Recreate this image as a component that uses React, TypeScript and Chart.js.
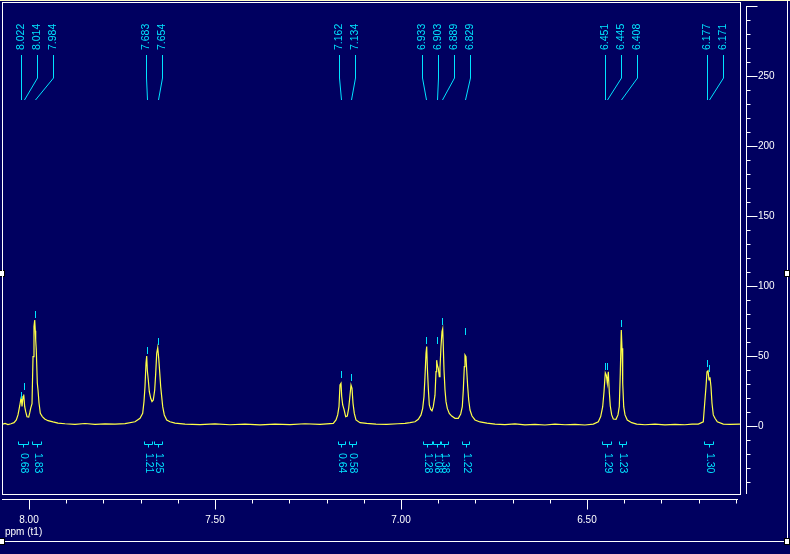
import React, { useEffect, useRef } from 'react';
import { Chart, registerables } from 'chart.js';

Chart.register(...registerables);

const BG = '#000060';
const SPECTRUM_COLOR = '#ffff48';
const CYAN = '#00e4ff';
const WHITE = '#ffffff';
const FONT = '"Liberation Sans", Arial, sans-serif';

// axis ranges (ppm reversed, intensity)
const xRange = [6.0887, 8.0726];
const yRange = [-48.57, 302.14];
const xMajorTicks = [8.0, 7.5, 7.0, 6.5];
const yMajorTicks = [0, 50, 100, 150, 200, 250];
const axisTitle = 'ppm (t1)';

// spectrum trace
const shiftPpm = [
  8.0726, 8.0645, 8.0565, 8.0484, 8.0403, 8.0341, 8.0296, 8.0250, 8.0223, 8.0207,
  8.0188, 8.0161, 8.0142, 8.0116, 8.0089, 8.0054, 8.0008, 7.9981, 7.9954, 7.9919,
  7.9892, 7.9866, 7.9847, 7.9831, 7.9820, 7.9804, 7.9777, 7.9758, 7.9731, 7.9696,
  7.9642, 7.9578, 7.9489, 7.9355, 7.9220, 7.9032, 7.8763, 7.8495, 7.8226, 7.7957,
  7.7688, 7.7419, 7.7151, 7.7016, 7.6944, 7.6909, 7.6882, 7.6855, 7.6836, 7.6820,
  7.6793, 7.6766, 7.6728, 7.6694, 7.6659, 7.6621, 7.6594, 7.6567, 7.6540, 7.6513,
  7.6497, 7.6460, 7.6433, 7.6406, 7.6363, 7.6298, 7.6210, 7.6075, 7.5806, 7.5403,
  7.5000, 7.4597, 7.4194, 7.3790, 7.3387, 7.2984, 7.2581, 7.2177, 7.1820, 7.1747,
  7.1702, 7.1667, 7.1640, 7.1613, 7.1594, 7.1567, 7.1532, 7.1487, 7.1444, 7.1406,
  7.1371, 7.1344, 7.1317, 7.1290, 7.1255, 7.1210, 7.1102, 7.0922, 7.0672, 7.0384,
  7.0081, 6.9892, 6.9758, 6.9624, 6.9535, 6.9462, 6.9417, 6.9382, 6.9355, 6.9328,
  6.9309, 6.9293, 6.9266, 6.9239, 6.9202, 6.9167, 6.9132, 6.9086, 6.9059, 6.9041,
  6.9024, 6.8997, 6.8970, 6.8952, 6.8925, 6.8898, 6.8879, 6.8863, 6.8844, 6.8817,
  6.8790, 6.8755, 6.8702, 6.8637, 6.8548, 6.8460, 6.8395, 6.8352, 6.8325, 6.8298,
  6.8280, 6.8253, 6.8234, 6.8207, 6.8180, 6.8145, 6.8091, 6.8011, 6.7876, 6.7688,
  6.7473, 6.7204, 6.6935, 6.6667, 6.6398, 6.6129, 6.5860, 6.5591, 6.5323, 6.5054,
  6.4831, 6.4696, 6.4632, 6.4578, 6.4543, 6.4508, 6.4481, 6.4454, 6.4427, 6.4401,
  6.4374, 6.4336, 6.4293, 6.4220, 6.4167, 6.4132, 6.4105, 6.4078, 6.4059, 6.4040,
  6.4013, 6.3978, 6.3917, 6.3798, 6.3664, 6.3441, 6.3172, 6.2903, 6.2634, 6.2366,
  6.2177, 6.2008, 6.1874, 6.1836, 6.1801, 6.1774, 6.1747, 6.1720, 6.1694, 6.1667,
  6.1640, 6.1605, 6.1559, 6.1497, 6.1336, 6.1156, 6.0887,
];
const intensity = [
  1.2, 1.8, 1.0, 1.6, 2.4, 4.3, 7.9, 14.3, 18.6, 20.5,
  14.0, 21.0, 22.5, 13.8, 10.2, 6.6, 6.4, 9.3, 12.8, 16.0,
  49.5, 71.0, 75.7, 68.0, 61.4, 54.0, 30.7, 25.7, 16.4, 9.0,
  6.7, 5.0, 3.8, 2.9, 2.1, 1.6, 1.2, 1.8, 1.1, 1.5,
  1.3, 1.7, 3.0, 5.5, 9.0, 17.4, 28.0, 44.8, 50.0, 40.0,
  32.9, 24.5, 19.8, 17.4, 18.6, 25.7, 37.6, 52.0, 56.0, 48.3,
  42.4, 28.0, 21.0, 13.8, 7.9, 4.3, 3.0, 2.0, 1.4, 1.0,
  1.5, 0.9, 1.3, 0.8, 1.4, 1.0, 1.6, 1.2, 1.9, 4.3,
  7.9, 13.8, 29.3, 30.5, 21.0, 15.0, 11.9, 6.7, 7.1, 12.6,
  22.0, 29.3, 26.9, 16.2, 9.0, 4.3, 2.4, 1.9, 1.4, 1.2,
  1.6, 1.9, 2.4, 3.0, 4.8, 7.9, 12.6, 21.0, 35.2, 52.0,
  56.7, 42.4, 26.9, 15.0, 11.9, 10.9, 13.8, 22.0, 38.8, 47.0,
  43.6, 41.2, 35.2, 41.2, 56.7, 67.4, 69.5, 56.7, 40.0, 25.7,
  17.4, 12.6, 9.0, 7.1, 5.5, 5.5, 8.6, 13.8, 25.7, 42.4,
  50.7, 49.5, 40.0, 28.0, 18.6, 11.4, 7.1, 4.3, 2.9, 2.0,
  1.4, 1.0, 1.5, 0.8, 1.2, 0.7, 1.3, 0.9, 1.1, 0.7,
  1.4, 3.0, 6.7, 13.8, 24.5, 38.0, 36.4, 30.5, 38.8, 24.5,
  14.3, 7.9, 5.0, 4.8, 7.9, 13.8, 37.6, 68.6, 55.5, 30.5,
  13.8, 7.9, 4.3, 2.4, 1.4, 0.9, 1.3, 0.8, 1.2, 0.9,
  1.3, 1.4, 3.0, 16.2, 28.0, 38.8, 39.5, 32.9, 34.8, 28.0,
  16.2, 7.9, 5.5, 3.0, 1.4, 1.2, 1.4,
];

// picked peaks: shift and level of the small marker above each peak
const peakShifts = [
  8.022, 8.014, 7.984, 7.683, 7.654, 7.162, 7.134, 6.933,
  6.903, 6.889, 6.829, 6.451, 6.445, 6.408, 6.177, 6.171,
];
const peakMarkerLevels = [
  19.3, 25.7, 77.4, 51.4, 57.9, 34.0, 32.4, 58.3,
  58.3, 72.0, 65.0, 40.0, 40.0, 71.0, 42.4, 38.8,
];

// integrals
const integralStart = [8.0288, 7.9911, 7.6909, 7.6632, 7.1702, 7.1398, 6.9417, 6.9132, 6.8933, 6.8368, 6.4589, 6.4132, 6.1847];
const integralEnd = [8.0035, 7.9685, 7.6702, 7.6433, 7.1505, 7.1210, 6.9175, 6.8952, 6.8745, 6.8164, 6.4355, 6.3960, 6.1605];
const integralValues = [0.68, 1.83, 1.21, 1.25, 0.64, 0.58, 1.28, 1.08, 1.38, 1.22, 1.29, 1.23, 1.30];

function placeLabels(px: number[], gap: number): number[] {
  const lx: number[] = [];
  const groups: number[][] = [];
  px.forEach((p, i) => {
    if (i > 0 && p < lx[i - 1] + gap) {
      lx.push(lx[i - 1] + gap);
      groups[groups.length - 1].push(i);
    } else {
      lx.push(p);
      groups.push([i]);
    }
  });
  groups.forEach((g) => {
    if (g.length < 2) return;
    // only shift clusters whose first two peaks are well separated
    const first = g[0];
    if (px[g[1]] - px[first] < 5) return;
    const mean = g.reduce((s, i) => s + (lx[i] - px[i]), 0) / g.length;
    g.forEach((i) => {
      lx[i] -= mean / 2;
    });
  });
  return lx;
}

const nmrPlugin = {
  id: 'nmrDecor',
  beforeDraw(chart: any) {
    const ctx = chart.ctx;
    ctx.save();
    ctx.fillStyle = BG;
    ctx.fillRect(0, 0, chart.width, chart.height);
    ctx.restore();
  },
  afterDraw(chart: any) {
    const { ctx, chartArea: ca, scales } = chart;
    const xs = scales.x;
    const ys = scales.y;
    const W = chart.width;
    const H = chart.height;
    const line = (x1: number, y1: number, x2: number, y2: number) => {
      ctx.beginPath();
      ctx.moveTo(x1, y1);
      ctx.lineTo(x2, y2);
      ctx.stroke();
    };
    ctx.save();
    ctx.lineWidth = 1;

    // outer frame
    const frameBottom = H - 12.5;
    ctx.strokeStyle = '#ffffc8';
    line(0, 0.5, W, 0.5);
    ctx.strokeStyle = WHITE;
    line(W - 2.5, 0, W - 2.5, frameBottom);
    line(0, frameBottom, W, frameBottom);
    const handle = (x: number, y: number) => {
      ctx.fillStyle = WHITE;
      ctx.fillRect(x, y, 6, 7);
      ctx.strokeStyle = '#000000';
      ctx.strokeRect(x + 0.5, y + 0.5, 5, 6);
    };
    const midY = Math.round(H / 2) - 7;
    handle(W - 6, midY);
    handle(W - 6, frameBottom - 3.5);
    handle(-1, midY);
    handle(-1, frameBottom - 3.5);

    // plot box
    ctx.strokeStyle = WHITE;
    ctx.strokeRect(ca.left + 0.5, ca.top - 0.5, ca.right - ca.left, ca.bottom - ca.top + 1);

    // x axis
    const axY = ca.bottom + 5.5;
    line(ca.left, axY, ca.right - 2, axY);
    for (let k = Math.ceil(xRange[0] * 10); k <= Math.floor(xRange[1] * 10); k++) {
      const px = Math.round(xs.getPixelForValue(k / 10)) + 0.5;
      line(px, axY, px, axY + (k % 5 === 0 ? 10 : 4));
    }

    // y axis
    const axX = ca.right + 6.5;
    const yTop = ys.getPixelForValue(Math.floor(yRange[1] / 10) * 10);
    line(axX, Math.round(yTop), axX, ca.bottom);
    for (let k = Math.ceil(yRange[0] / 10); k <= Math.floor(yRange[1] / 10); k++) {
      const py = Math.round(ys.getPixelForValue(k * 10)) + 0.5;
      line(axX, py, axX + (k % 5 === 0 ? 11 : 4), py);
    }

    // axis title
    ctx.fillStyle = WHITE;
    ctx.font = `10px ${FONT}`;
    ctx.textAlign = 'left';
    ctx.textBaseline = 'middle';
    ctx.fillText(axisTitle, ca.left + 3, ca.bottom + 38);

    // peak labels and markers
    ctx.save();
    ctx.beginPath();
    ctx.rect(ca.left + 1, ca.top, ca.right - ca.left - 1, ca.bottom - ca.top);
    ctx.clip();
    ctx.strokeStyle = CYAN;
    ctx.fillStyle = CYAN;
    ctx.font = `10.5px ${FONT}`;
    const px = peakShifts.map((p) => xs.getPixelForValue(p));
    const lx = placeLabels(px, 16);
    const top = ca.top;
    peakShifts.forEach((p, i) => {
      const x0 = Math.round(lx[i]) + 0.5;
      ctx.save();
      ctx.translate(x0, top + 47);
      ctx.rotate(-Math.PI / 2);
      ctx.textAlign = 'left';
      ctx.textBaseline = 'middle';
      ctx.fillText(p.toFixed(3), 0, 0);
      ctx.restore();
      ctx.beginPath();
      ctx.moveTo(x0, top + 52);
      ctx.lineTo(x0, top + 75);
      ctx.lineTo(Math.round(px[i]) + 0.5, top + 97);
      ctx.stroke();
      const mx = Math.round(px[i]) + 0.5;
      const my = Math.round(ys.getPixelForValue(peakMarkerLevels[i]));
      line(mx, my, mx, my - 7);
    });

    // integrals
    const y0 = ys.getPixelForValue(0);
    const by = Math.round(y0) + 18.5;
    integralValues.forEach((v, i) => {
      const xa = xs.getPixelForValue(integralStart[i]);
      const xb = xs.getPixelForValue(integralEnd[i]);
      const a = Math.round(xa) + 0.5;
      const b = Math.round(xb) + 0.5;
      const c = Math.round((xa + xb) / 2) + 0.5;
      ctx.beginPath();
      ctx.moveTo(a, by - 3);
      ctx.lineTo(a, by);
      ctx.lineTo(b, by);
      ctx.lineTo(b, by - 3);
      ctx.moveTo(c, by);
      ctx.lineTo(c, by + 3);
      ctx.stroke();
      ctx.save();
      ctx.translate(c, by + 8.5);
      ctx.rotate(Math.PI / 2);
      ctx.textAlign = 'left';
      ctx.textBaseline = 'middle';
      ctx.fillText(v.toFixed(2), 0, 0);
      ctx.restore();
    });
    ctx.restore();

    ctx.restore();
  },
};

export default function App() {
  const ref = useRef<HTMLCanvasElement>(null);
  useEffect(() => {
    document.body.style.margin = '0';
    document.body.style.background = BG;
    const points = shiftPpm.map((x, i) => ({ x, y: intensity[i] }));
    const chart = new Chart(ref.current as HTMLCanvasElement, {
      type: 'line',
      data: {
        datasets: [
          {
            data: points,
            borderColor: SPECTRUM_COLOR,
            borderWidth: 1.2,
            pointRadius: 0,
            tension: 0,
            fill: false,
          },
        ],
      },
      options: {
        animation: false,
        responsive: false,
        devicePixelRatio: 1,
        layout: { padding: { left: 2, top: 3, right: 0, bottom: 0 }, autoPadding: false },
        plugins: { legend: { display: false }, tooltip: { enabled: false } },
        scales: {
          x: {
            type: 'linear',
            reverse: true,
            min: xRange[0],
            max: xRange[1],
            grid: { display: false, drawTicks: false },
            border: { display: false },
            ticks: {
              color: WHITE,
              font: { family: FONT, size: 10 },
              padding: 20,
              maxRotation: 0,
              autoSkip: false,
              includeBounds: false,
              callback: (v: any) => Number(v).toFixed(2),
            },
            afterBuildTicks: (s: any) => {
              s.ticks = xMajorTicks.map((value) => ({ value }));
            },
            afterFit: (s: any) => {
              s.height = 60;
              s.paddingLeft = 0;
              s.paddingRight = 0;
            },
          },
          y: {
            type: 'linear',
            position: 'right',
            min: yRange[0],
            max: yRange[1],
            grid: { display: false, drawTicks: false },
            border: { display: false },
            ticks: {
              color: WHITE,
              font: { family: FONT, size: 10 },
              padding: 18,
              includeBounds: false,
              callback: (v: any) => String(v),
            },
            afterBuildTicks: (s: any) => {
              s.ticks = yMajorTicks.map((value) => ({ value }));
            },
            afterFit: (s: any) => {
              s.width = 50;
              s.paddingTop = 0;
              s.paddingBottom = 0;
            },
          },
        },
      } as any,
      plugins: [nmrPlugin],
    });
    return () => chart.destroy();
  }, []);
  return (
    <div style={{ width: 790, height: 554 }}>
      <canvas ref={ref} width={790} height={554} style={{ display: 'block', width: 790, height: 554 }} />
    </div>
  );
}
